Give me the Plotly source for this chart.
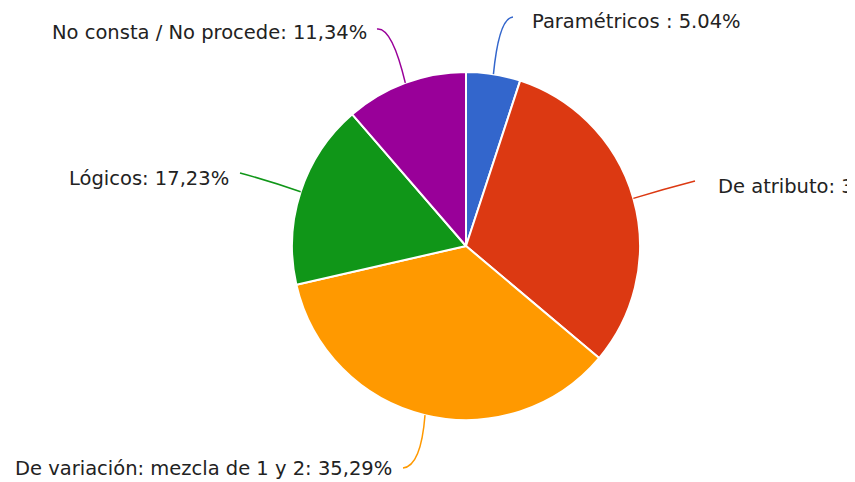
import math
import plotly.graph_objects as go

# ---- data ----
categories = ["Paramétricos", "De atributo", "De variación: mezcla de 1 y 2", "Lógicos", "No consta / No procede"]
values = [5.04, 31.10, 35.29, 17.23, 11.34]
label_text = ["Paramétricos : 5.04%", "De atributo: 31,10%", "De variación: mezcla de 1 y 2: 35,29%",
              "Lógicos: 17,23%", "No consta / No procede: 11,34%"]
colors = ["#3366cc", "#dc3912", "#ff9900", "#109618", "#990099"]

# page has an 8px body margin; work in page pixels and convert
OFF = 8
W, H = 855 - OFF, 482 - OFF
CX, CY, R = 466, 246, 174

def px(x):
    return (x - OFF) / W

def py(y):
    return 1 - (y - OFF) / H

fig = go.Figure(go.Pie(
    labels=categories,
    values=values,
    sort=False,
    direction="clockwise",
    rotation=0,
    marker=dict(colors=colors, line=dict(color="white", width=2)),
    textinfo="none",
    hoverinfo="label+percent",
    domain=dict(x=[px(CX - R), px(CX + R)], y=[py(CY + R), py(CY - R)]),
    showlegend=False,
))

# label placements (page-pixel positions of text anchor, line start, control point)
label_pos = [
    dict(x=530, y=22, xa="left", start=(513, 17), ctrl=(499, 18)),
    dict(x=716, y=186, xa="left", start=(695, 181), ctrl=(664, 189)),
    dict(x=394, y=468, xa="right", start=(403, 468), ctrl=(421, 466)),
    dict(x=231, y=178, xa="right", start=(240, 173), ctrl=(270, 181)),
    dict(x=369, y=32, xa="right", start=(377, 29), ctrl=(392, 27)),
]

total = sum(values)
cum = 0.0
shapes = []
annotations = []
for v, t, c, lp in zip(values, label_text, colors, label_pos):
    mid = (cum + v / 2) / total * 2 * math.pi
    cum += v
    ex = CX + R * math.sin(mid)
    ey = CY - R * math.cos(mid)
    sx, sy = lp["start"]
    qx, qy = lp["ctrl"]
    path = f"M {px(sx)},{py(sy)} Q {px(qx)},{py(qy)} {px(ex)},{py(ey)}"
    shapes.append(dict(type="path", xref="paper", yref="paper", path=path,
                       line=dict(color=c, width=1.5)))
    annotations.append(dict(x=px(lp["x"]), y=py(lp["y"]), xref="paper", yref="paper",
                            text=t, showarrow=False, xanchor=lp["xa"], yanchor="middle",
                            font=dict(family="DejaVu Sans", size=19.5, color="#222222")))

fig.update_layout(
    width=W, height=H,
    margin=dict(l=0, r=0, t=0, b=0),
    paper_bgcolor="white",
    plot_bgcolor="white",
    shapes=shapes,
    annotations=annotations,
)

fig.write_html("out.html")
